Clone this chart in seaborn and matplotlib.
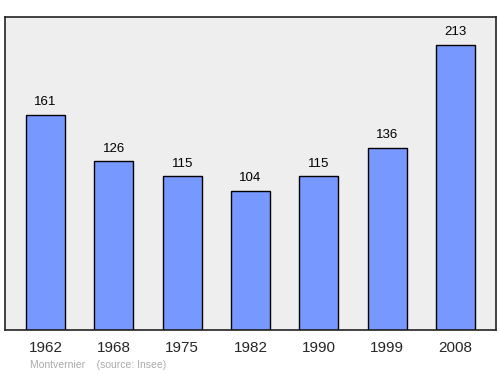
import matplotlib
matplotlib.use("Agg")
import matplotlib.pyplot as plt
import seaborn as sns
import pandas as pd

years = ["1962", "1968", "1975", "1982", "1990", "1999", "2008"]
population = [161, 126, 115, 104, 115, 136, 213]

df = pd.DataFrame({"year": years, "pop": population})

sns.set_style("white")
plt.rcParams['font.family'] = ['Liberation Sans', 'DejaVu Sans']

fig = plt.figure(figsize=(5, 3.74), dpi=100)
ax = fig.add_axes([0.01, 0.1176, 0.982, 0.8369])
ax.set_facecolor("#eeeeee")

sns.barplot(data=df, x="year", y="pop", order=years, color="#7799ff",
            saturation=1, edgecolor="black", linewidth=1, width=0.571, ax=ax)

for i, v in enumerate(population):
    ax.text(i, v + 5, str(v), ha="center", va="bottom", fontsize=9.5, color="black")

ax.set_xlim(-0.593, 6.593)
ax.set_ylim(0, 234)
ax.set_yticks([])
ax.set_xlabel("")
ax.set_ylabel("")
ax.tick_params(axis="x", length=0, labelsize=11, pad=8)
for s in ax.spines.values():
    s.set_color("#222222")
    s.set_linewidth(1.2)

fig.text(0.06, 0.024, "Montvernier    (source: Insee)", fontsize=7.5, color="#aaaaaa",
         ha="left", va="center")

fig.savefig("out.png", dpi=100)
